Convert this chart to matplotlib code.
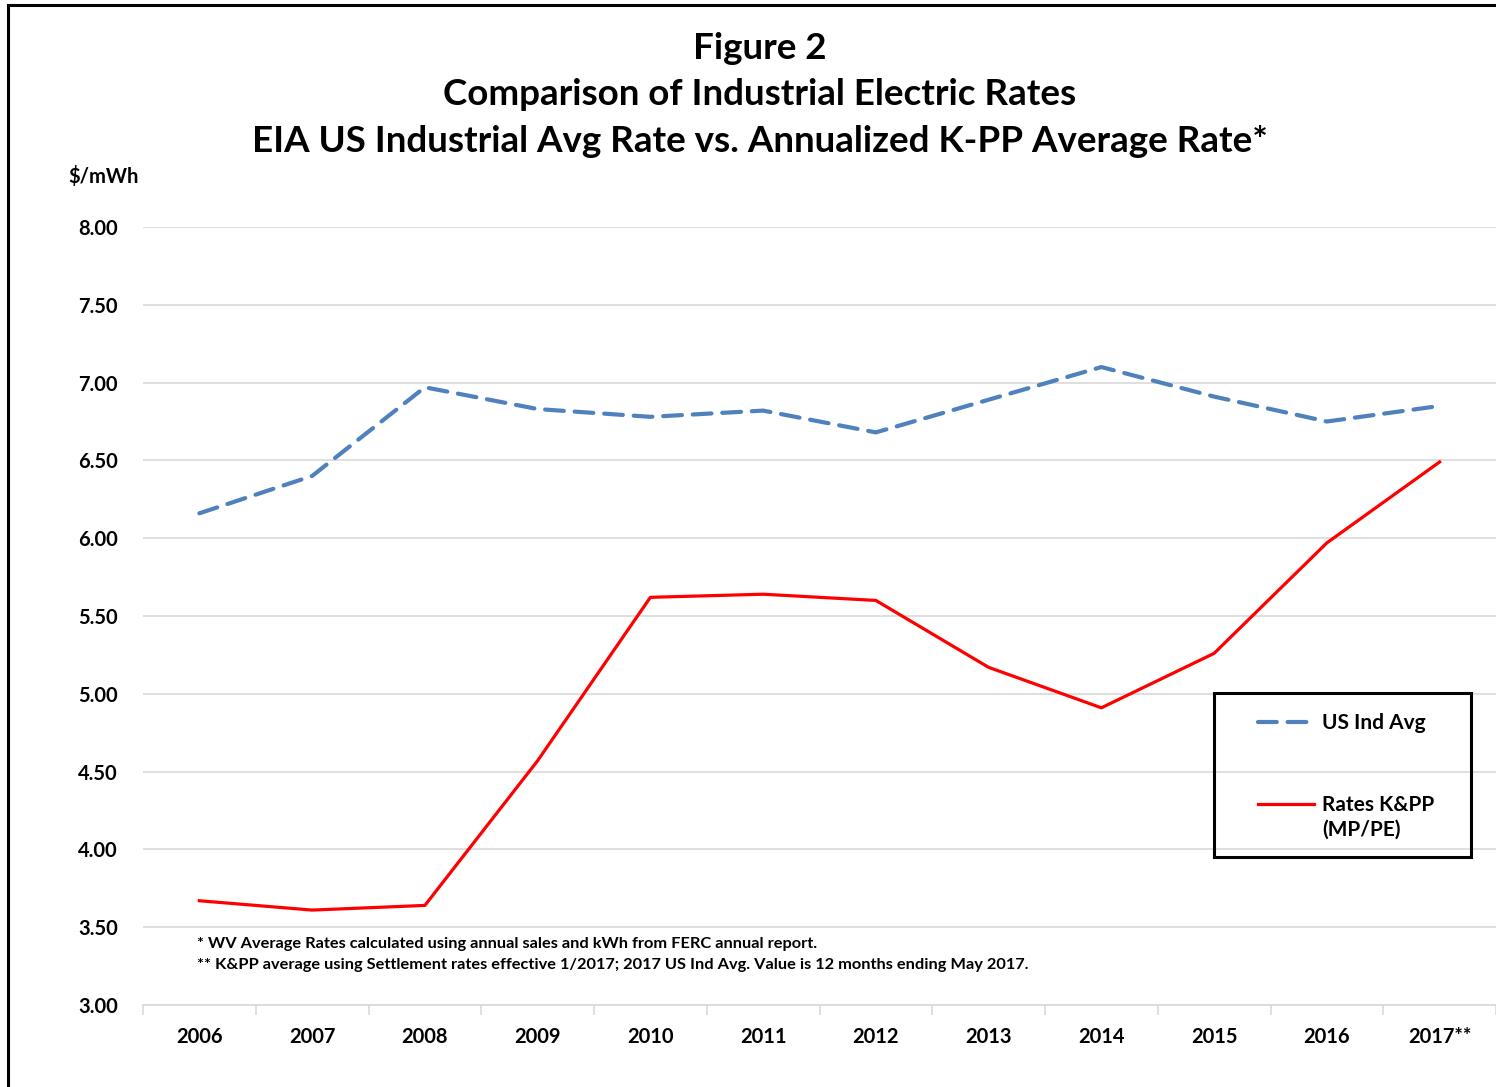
import matplotlib.pyplot as plt
from matplotlib.patches import Rectangle
import numpy as np

years = ["2006", "2007", "2008", "2009", "2010", "2011",
         "2012", "2013", "2014", "2015", "2016", "2017**"]
us_ind_avg = [6.16, 6.40, 6.97, 6.83, 6.78, 6.82, 6.68, 6.89, 7.10, 6.91, 6.75, 6.85]
rates_kpp = [3.67, 3.61, 3.64, 4.57, 5.62, 5.64, 5.60, 5.17, 4.91, 5.26, 5.97, 6.49]
y_ticks = [3.0, 3.5, 4.0, 4.5, 5.0, 5.5, 6.0, 6.5, 7.0, 7.5, 8.0]

plt.rcParams["font.family"] = ["Lato", "DejaVu Sans"]
plt.rcParams["font.weight"] = "bold"

fig = plt.figure(figsize=(14.96, 10.87), dpi=100)
ax = fig.add_axes([143 / 1496, 1 - 1005 / 1087, 1 - 143 / 1496, (1005 - 227) / 1087])

x = np.arange(len(years))
ax.plot(x, us_ind_avg, color="#4f81bd", lw=3.0, dashes=(4.5, 2.6),
        dash_capstyle="round", label="US Ind Avg")
ax.plot(x, rates_kpp, color="#ff0000", lw=2.3, label="Rates K&PP")

ax.set_xlim(-0.5, len(years) - 0.5)
ax.set_ylim(3.0, 8.0)
ax.set_yticks(y_ticks)
ax.set_yticklabels([f"{v:.2f}" for v in y_ticks], fontsize=14.5, fontweight="bold")
ax.set_xticks(x)
ax.set_xticklabels(years, fontsize=14.5, fontweight="bold")
ax.set_xticks(np.arange(-0.5, len(years), 1.0), minor=True)
ax.tick_params(axis="x", which="major", length=0, pad=16)
ax.tick_params(axis="x", which="minor", length=7, color="#d9d9d9", width=1.2)
ax.tick_params(axis="y", length=0, pad=18)
ax.grid(axis="y", color="#d9d9d9", lw=1.2)
ax.set_axisbelow(True)
for side in ["top", "right", "left"]:
    ax.spines[side].set_visible(False)
ax.spines["bottom"].set_color("#d9d9d9")
ax.spines["bottom"].set_linewidth(1.2)

# legend without its own frame, box drawn separately
leg = ax.legend(loc="upper left", bbox_to_anchor=((1258 - 143) / 1353, (1005 - 713) / 778),
                fontsize=15, frameon=False, labelspacing=3.0,
                handlelength=2.7, handletextpad=0.35, borderpad=0, borderaxespad=0)
for t in leg.get_texts():
    t.set_fontweight("bold")
ax.text((1322 - 143) / 1353, (1005 - 830) / 778, "(MP/PE)", transform=ax.transAxes,
        fontsize=15, fontweight="bold", va="center", zorder=6)
ax.add_patch(Rectangle(((1214 - 143) / 1353, (1005 - 857) / 778),
                       (1471 - 1214) / 1353, (857 - 693) / 778,
                       transform=ax.transAxes, fill=False, edgecolor="black",
                       lw=2.2, zorder=5))

ax.text(0.04, 0.073, "* WV Average Rates calculated using annual sales and kWh from FERC annual report.",
        transform=ax.transAxes, fontsize=11.8, fontweight="bold")
ax.text(0.04, 0.046, "** K&PP average using Settlement rates effective 1/2017; 2017 US Ind Avg. Value is 12 months ending May 2017.",
        transform=ax.transAxes, fontsize=11.8, fontweight="bold")

fig.text(68 / 1496, 1 - 176 / 1087, "$/mWh", fontsize=14.5, fontweight="bold", va="center")
fig.text(760 / 1496, 1 - 95 / 1087,
         "Figure 2\nComparison of Industrial Electric Rates\nEIA US Industrial Avg Rate vs. Annualized K-PP Average Rate*",
         ha="center", va="center", fontsize=26.5, fontweight="bold", linespacing=1.5)

fig.patches.append(Rectangle((8 / 1496, -0.05), 1.1, 1 - 5 / 1087 + 0.05,
                             transform=fig.transFigure, fill=False,
                             edgecolor="black", lw=2.2))

fig.savefig("out.png", dpi=100)
